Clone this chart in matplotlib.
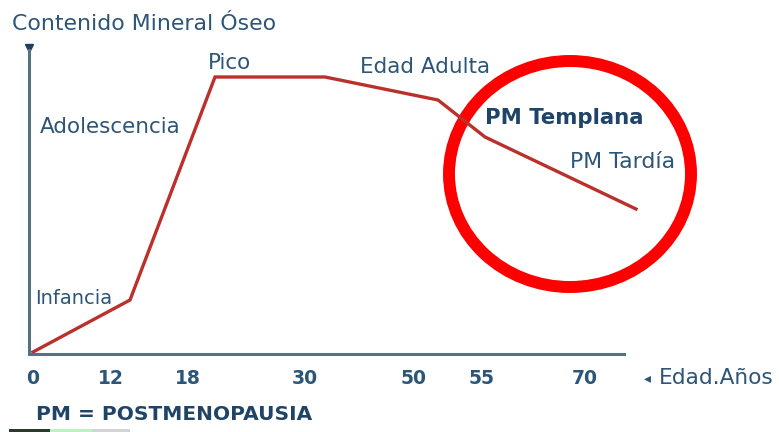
import matplotlib
matplotlib.use("Agg")
import matplotlib.pyplot as plt
from matplotlib.patches import Ellipse, Rectangle

# Curve of bone mineral content (chart units: horizontal position, height above axis)
curve_x = [4, 101, 186, 296, 409, 456, 607]
curve_y = [2, 54, 277, 277, 254, 217, 145]

# Age tick labels and their positions along the axis
age_labels = ["0", "12", "18", "30", "50", "55", "70"]
age_pos = [4, 82, 159, 276, 385, 453, 556]

# Stage annotations
stage_names = ["Infancia", "Adolescencia", "Pico", "Edad Adulta", "PM Templana", "PM Tardía"]
stage_x = [6, 11, 179, 331, 456, 541]
stage_y = [56, 227, 291, 287, 236, 192]
stage_bold = [False, False, False, False, True, False]
stage_size = [14, 15.5, 15.5, 15.5, 15.3, 15.8]

W, H = 779, 432
fig = plt.figure(figsize=(W / 100, H / 100), dpi=100)
ax = fig.add_axes([29 / W, (H - 354) / H, 595 / W, 304 / H])
ax.set_xlim(0, 595)
ax.set_ylim(0, 304)

text_col = "#2d5577"
axis_col = "#557283"
for s in ["top", "right"]:
    ax.spines[s].set_visible(False)
for s in ["left", "bottom"]:
    ax.spines[s].set_color(axis_col)
    ax.spines[s].set_linewidth(2.2)
ax.set_xticks([])
ax.set_yticks([])
ax.plot([0], [306], marker="v", color="#1f3f5f", markersize=6, clip_on=False)

ax.plot(curve_x, curve_y, color="#bb302b", lw=2.4, clip_on=False, solid_joinstyle="miter")

for lab, p in zip(age_labels, age_pos):
    ax.text(p, -24, lab, ha="center", va="center", fontsize=13.5, color=text_col,
            fontweight="bold", clip_on=False)

for name, x, y, b, fs in zip(stage_names, stage_x, stage_y, stage_bold, stage_size):
    ax.text(x, y, name, ha="left", va="center", fontsize=fs, color="#1f4468" if b else text_col,
            fontweight="bold" if b else "normal", clip_on=False)

fig.text(12 / W, 1 - 24 / H, "Contenido Mineral Óseo", ha="left", va="center",
         fontsize=15.8, color=text_col)
fig.text(647 / W, 1 - 378 / H, "◂", ha="center", va="center", fontsize=10, color=text_col)
fig.text(659 / W, 1 - 378 / H, "Edad.Años", ha="left", va="center",
         fontsize=15.6, color=text_col)
fig.text(36 / W, 1 - 414 / H, "PM = POSTMENOPAUSIA", ha="left", va="center",
         fontsize=14.5, color="#1f4468", fontweight="bold")

circle = Ellipse((541, 180), 242, 226, fill=False, edgecolor="#ff0000", lw=8.6, clip_on=False)
ax.add_patch(circle)

# small image-edge strip at the bottom left
for x0, x1, c in [(9, 50, "#2b3b2b"), (50, 92, "#bff0bf"), (92, 130, "#d4d4d4")]:
    fig.patches.append(Rectangle((x0 / W, 0), (x1 - x0) / W, 3 / H, transform=fig.transFigure,
                                 color=c, lw=0))

fig.savefig("out.png", dpi=100)
